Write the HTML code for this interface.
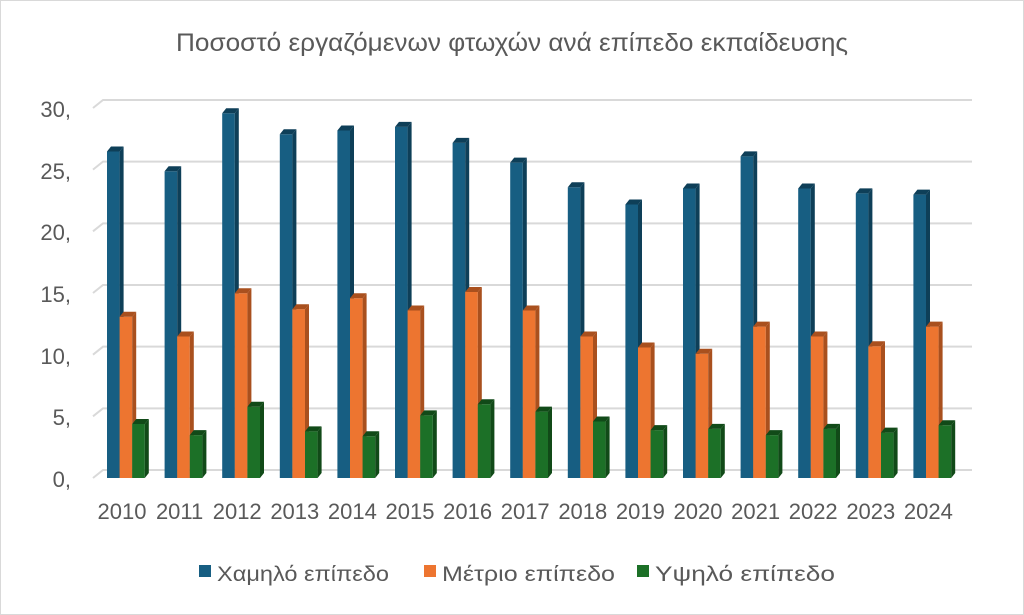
<!DOCTYPE html>
<html><head><meta charset="utf-8"><style>
body{margin:0;background:#fff}
svg{display:block;font-family:"Liberation Sans","DejaVu Sans",sans-serif;fill:#595959}
</style></head><body>
<svg width="1024" height="615" viewBox="0 0 1024 615" xmlns="http://www.w3.org/2000/svg">
<rect x="0.5" y="0.5" width="1023" height="614" fill="#fff" stroke="#d9d9d9"/>
<text x="512" y="51" font-size="25" text-anchor="middle" textLength="672" lengthAdjust="spacingAndGlyphs">Ποσοστό εργαζόμενων φτωχών ανά επίπεδο εκπαίδευσης</text>
<g stroke="#d9d9d9" stroke-width="2" fill="none" id="grid"></g>
<g font-size="22" text-anchor="end">
<text x="71" y="117">30,</text><text x="71" y="179">25,</text><text x="71" y="240">20,</text>
<text x="71" y="302">15,</text><text x="71" y="364">10,</text><text x="71" y="425">5,</text><text x="71" y="487">0,</text>
</g>
<g id="bars"></g>
<g font-size="22" text-anchor="middle">
<text x="122" y="519">2010</text><text x="179.6" y="519">2011</text><text x="237.2" y="519">2012</text>
<text x="294.8" y="519">2013</text><text x="352.4" y="519">2014</text><text x="410" y="519">2015</text>
<text x="467.6" y="519">2016</text><text x="525.2" y="519">2017</text><text x="582.8" y="519">2018</text>
<text x="640.4" y="519">2019</text><text x="698" y="519">2020</text><text x="755.6" y="519">2021</text>
<text x="813.2" y="519">2022</text><text x="870.8" y="519">2023</text><text x="928.4" y="519">2024</text>
</g>
<g font-size="21">
<rect x="199" y="565" width="12" height="12" fill="#175e82"/><text x="217" y="581" textLength="172" lengthAdjust="spacingAndGlyphs">Χαμηλό επίπεδο</text>
<rect x="424" y="565" width="12" height="12" fill="#ed7530"/><text x="442" y="581" textLength="173" lengthAdjust="spacingAndGlyphs">Μέτριο επίπεδο</text>
<rect x="637" y="565" width="12" height="12" fill="#1c7027"/><text x="655" y="581" textLength="180" lengthAdjust="spacingAndGlyphs">Υψηλό επίπεδο</text>
</g>
</svg>
<script>
var ns="http://www.w3.org/2000/svg";
var g=document.getElementById("grid");
for(var k=0;k<=6;k++){var yb=470-k*61.67,yf=yb+8;
var p=document.createElementNS(ns,"path");p.setAttribute("d","M93 "+yf+" L103 "+yb+" L972 "+yb);g.appendChild(p);}
var d=[[26.4,24.8,29.5,27.8,28.1,28.4,27.1,25.5,23.5,22.1,23.4,26.0,23.4,23.0,22.9],
[13.0,11.4,14.9,13.6,14.5,13.5,15.0,13.5,11.4,10.5,10.0,12.2,11.4,10.6,12.2],
[4.3,3.4,5.7,3.7,3.3,5.0,5.9,5.3,4.5,3.8,3.9,3.4,3.9,3.6,4.2]];
var c=[["#175e82","#0e3f58"],["#ed7530","#a9501e"],["#1c7027","#114a18"]];
var b=document.getElementById("bars");
function poly(pts,f){var p=document.createElementNS(ns,"polygon");p.setAttribute("points",pts);p.setAttribute("fill",f);b.appendChild(p);}
for(var i=0;i<15;i++)for(var s=0;s<3;s++){
var x=107+i*57.6+s*12.6,w=12.6,dx=4,dy=5,v=d[s][i],yt=477-v*12.33,yb=478;
poly(x+","+yt+" "+(x+w)+","+yt+" "+(x+w)+","+yb+" "+x+","+yb,c[s][0]);
poly((x+w)+","+yt+" "+(x+w+dx)+","+(yt-dy)+" "+(x+w+dx)+","+(yb-dy)+" "+(x+w)+","+yb,c[s][1]);
poly(x+","+yt+" "+(x+dx)+","+(yt-dy)+" "+(x+w+dx)+","+(yt-dy)+" "+(x+w)+","+yt,c[s][1]);
}
</script>
</body></html>
